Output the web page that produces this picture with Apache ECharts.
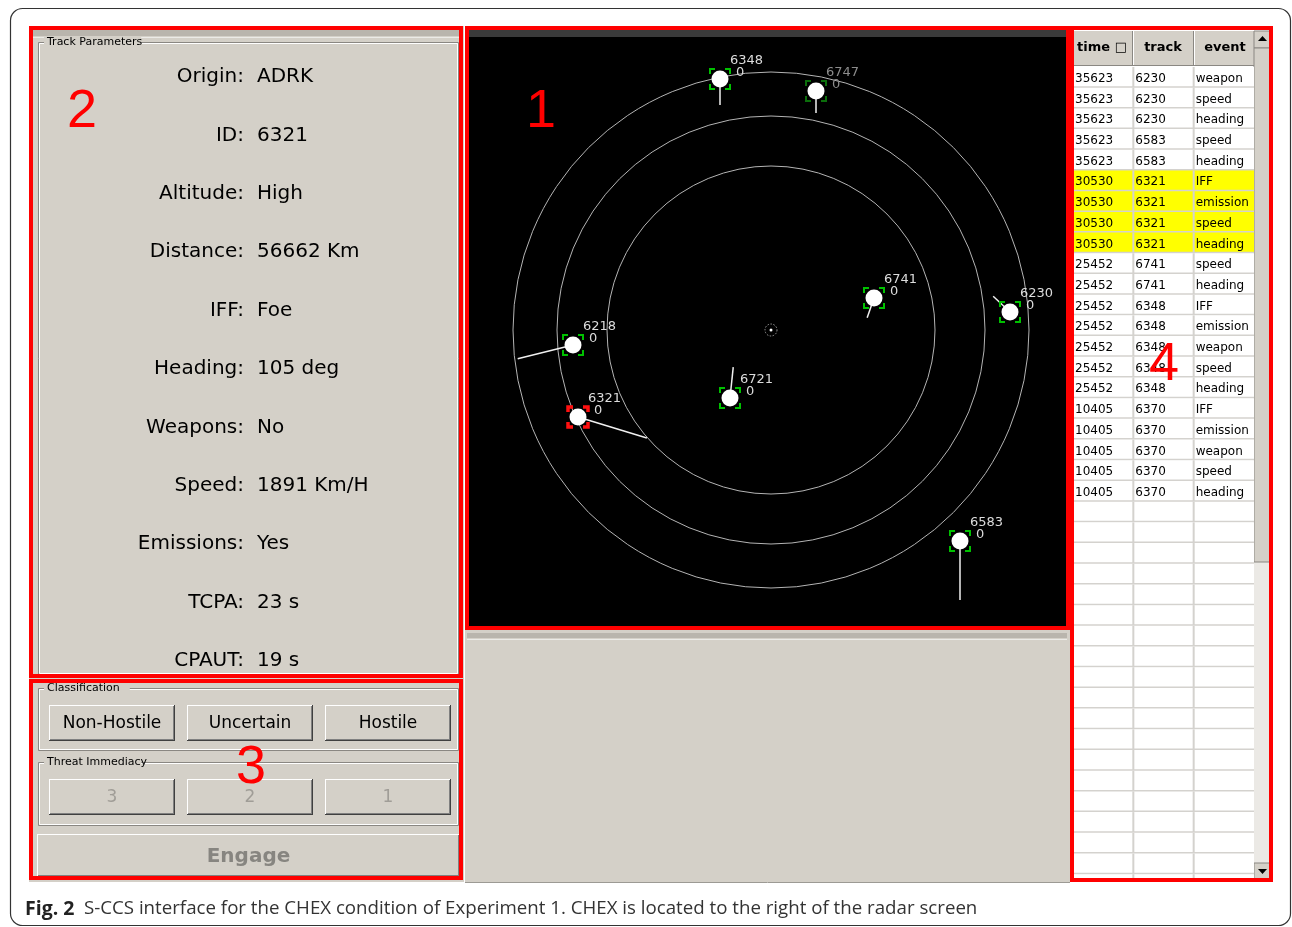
<!DOCTYPE html>
<html><head><meta charset="utf-8">
<script src="https://cdn.jsdelivr.net/npm/echarts@6/dist/echarts.min.js"></script>
<style>html,body{margin:0;padding:0;background:#fff}#c{width:1292px;height:927px}</style>
</head><body><div id="c"></div>
<script>
// ---------------- DATA ----------------
const paramLabels = ['Origin:','ID:','Altitude:','Distance:','IFF:','Heading:','Weapons:','Speed:','Emissions:','TCPA:','CPAUT:'];
const paramValues = ['ADRK','6321','High','56662 Km','Foe','105 deg','No','1891 Km/H','Yes','23 s','19 s'];
const classButtons = ['Non-Hostile','Uncertain','Hostile'];
const threatButtons = ['3','2','1'];
const ringRadii = [164, 214, 258];
const trackIds      = ['6348','6747','6741','6230','6218','6721','6321','6583'];
const trackX        = [ -51,   45,   103,   239,  -198,   -41,  -193,   189];
const trackY        = [ 251,  239,    32,    18,   -15,   -68,   -87,  -211];
const trackHeading  = [ 180,  180,   199,   313,   256,     6,   107,   180];
const trackVector   = [  26,   22,    21,    23,    57,    31,    72,    59];
const trackAlt      = [   0,    0,     0,     0,     0,     0,     0,     0];
const selectedTrack = '6321';
const dimTracks = ['6747'];
const tableHeaders = ['time \u25A1','track','event'];
const eventTime  = ['35623','35623','35623','35623','35623','30530','30530','30530','30530','25452','25452','25452','25452','25452','25452','25452','10405','10405','10405','10405','10405'];
const eventTrack = ['6230','6230','6230','6583','6583','6321','6321','6321','6321','6741','6741','6348','6348','6348','6348','6348','6370','6370','6370','6370','6370'];
const eventType  = ['weapon','speed','heading','speed','heading','IFF','emission','speed','heading','speed','heading','IFF','emission','weapon','speed','heading','IFF','emission','weapon','speed','heading'];
const tableRowCount = 40;
const regionNumbers = ['1','2','3','4'];
const captionBold = 'Fig. 2';
const captionText = 'S-CCS interface for the CHEX condition of Experiment 1. CHEX is located to the right of the radar screen';

// ---------------- LAYOUT / STYLE ----------------
const FACE = '#d4d0c8';
const UI = "'DejaVu Sans'";
const g = [];
function rect(x,y,w,h,fill,z,extra){ g.push(Object.assign({type:'rect',z:z||1,shape:{x:x,y:y,width:w,height:h},style:{fill:fill}},extra||{})); }
function line(x1,y1,x2,y2,stroke,lw,z){ g.push({type:'line',z:z||2,shape:{x1:x1,y1:y1,x2:x2,y2:y2},style:{stroke:stroke,lineWidth:lw||1}}); }
function text(t,x,y,font,fill,align,z){ g.push({type:'text',z:z||5,style:{text:t,x:x,y:y,font:font,fill:fill,align:align||'left',verticalAlign:'middle',textAlign:align||'left',textVerticalAlign:'middle'}}); }
function groupBox(x,y,w,h,title){
  g.push({type:'rect',z:2,shape:{x:x+0.5,y:y+0.5,width:w,height:h},style:{fill:null,stroke:'#8a8782',lineWidth:1}});
  g.push({type:'rect',z:2,shape:{x:x+1.5,y:y+1.5,width:w-2,height:h-2},style:{fill:null,stroke:'#ffffff',lineWidth:1}});
  rect(x+6,y-6,title.length*5.7+6,12,FACE,3);
  text(title,x+9,y,"11px "+UI,'#000','left',4);
}
function button(x,y,w,h,label,disabled,font,dimColor){
  rect(x,y,w,h,'#404040',2);
  rect(x,y,w-1,h-1,'#ffffff',2);
  rect(x+1,y+1,w-2,h-2,'#808080',2);
  rect(x+1,y+1,w-3,h-3,FACE,2);
  if(disabled){
    text(label,x+w/2,y+h/2+1,font,dimColor||'#a4a19b','center',5);
  } else text(label,x+w/2,y+h/2+1,font,'#000','center',5);
}

// outer rounded frame
g.push({type:'rect',z:0,shape:{x:10.5,y:8.5,width:1280,height:917,r:12},style:{fill:null,stroke:'#333',lineWidth:1.2}});
// panels
rect(29,26,435,856,FACE,1);
rect(465,628,606,254,FACE,1);
rect(467,633,600,5,'#b9b5ad',2);
rect(467,639,600,1,'#ecebe7',2);
line(465,882.5,1070,882.5,'#9c9a94',1,2);
rect(33,30,427,6,'#b9b5ad',2);
line(33,37.5,460,37.5,'#ecebe7',1,2);
// radar screen background and dark strip
rect(467,28,601,600,'#000000',1);
rect(469,30,598,7,'#3a3a3a',2);

// Track Parameters
groupBox(38,42,420,632,'Track Parameters');
const rowY0 = 77, rowDy = 58.4;
paramLabels.forEach(function(l,i){
  text(l,244,rowY0+i*rowDy,"20px "+UI,'#000','right',5);
  text(paramValues[i],257,rowY0+i*rowDy,"20px "+UI,'#000','left',5);
});
// Classification
groupBox(38,688,420,62,'Classification');
classButtons.forEach(function(b,i){ button(49+i*138,705,126,36,b,false,"17px "+UI); });
groupBox(38,762,420,63,'Threat Immediacy');
threatButtons.forEach(function(b,i){ button(49+i*138,779,126,36,b,true,"17px "+UI,'#a09d97'); });
button(37,834,423,43,'Engage',true,"bold 20px "+UI,'#878580');

// table header
rect(1073,31,181,35,FACE,3);
[1073,1133,1194].forEach(function(x,i){
  line(x+0.5,31,x+0.5,65,'#ffffff',1,4);
  if(i>0) line(x-0.5,31,x-0.5,65,'#8a8782',1,4);
});
line(1073,65.5,1254,65.5,'#8a8782',1,4);
const headerCenters = [1102,1163,1225];
tableHeaders.forEach(function(h,i){ text(h,headerCenters[i],48,"bold 13px "+UI,'#000','center',6); });
// scrollbar
rect(1254,31,17,849,'#ebe9e5',3);
rect(1254,31,17,17,FACE,4,{style:{fill:FACE,stroke:'#8a8782',lineWidth:1}});
g.push({type:'polygon',z:6,shape:{points:[[1258,41],[1267,41],[1262.5,36]]},style:{fill:'#000'}});
rect(1254,48,17,514,FACE,4,{style:{fill:FACE,stroke:'#8a8782',lineWidth:1}});
rect(1254,863,17,17,FACE,4,{style:{fill:FACE,stroke:'#8a8782',lineWidth:1}});
g.push({type:'polygon',z:6,shape:{points:[[1258,869],[1267,869],[1262.5,874]]},style:{fill:'#000'}});

// red region boxes
function redBox(x,y,w,h){ g.push({type:'rect',z:50,shape:{x:x,y:y,width:w,height:h},style:{fill:null,stroke:'#ff0000',lineWidth:4}}); }
redBox(31,28,430,648);
redBox(31,681,430,197);
redBox(467,28,601,600);
redBox(1072,28,199,852);
const numPos = [[541,112],[82,112],[251,768],[1164,365]];
regionNumbers.forEach(function(n,i){ text(n,numPos[i][0],numPos[i][1],"54px 'Liberation Sans'",'#ff0000','center',51); });

// caption
text(captionBold,25,909,"bold 19.5px 'Open Sans'",'#222','left',5);
text(captionText,84,909,"18.7px 'Open Sans'",'#333','left',5);

// ---------------- RENDERERS ----------------
function renderRing(params, api){
  const c = api.coord([0,0]);
  const r = api.size([api.value(2),0])[0];
  return {type:'circle',shape:{cx:c[0],cy:c[1],r:r},style:{fill:null,stroke:'#b4b4b4',lineWidth:1}};
}
function renderOrigin(params, api){
  const c = api.coord([api.value(0),api.value(1)]);
  return {type:'group',children:[
    {type:'circle',shape:{cx:c[0],cy:c[1],r:6},style:{fill:null,stroke:'#9a9a9a',lineWidth:1,lineDash:[1.5,1.5]}},
    {type:'circle',shape:{cx:c[0],cy:c[1],r:1.5},style:{fill:'#ffffff'}}
  ]};
}
function renderTrack(params, api){
  const i = api.value(2);
  const id = trackIds[i];
  const x = trackX[i], y = trackY[i];
  const p = api.coord([x,y]);
  const h = trackHeading[i]*Math.PI/180;
  const e = api.coord([x+trackVector[i]*Math.sin(h), y+trackVector[i]*Math.cos(h)]);
  const sel = id===selectedTrack, dim = dimTracks.indexOf(id)>=0;
  const bc = sel ? '#ff1010' : (dim ? '#0b6e0b' : '#00c000');
  const s = 10, a = 5, lw = sel ? 3.5 : 2;
  const ch = [{type:'line',shape:{x1:p[0],y1:p[1],x2:e[0],y2:e[1]},style:{stroke:'#f0f0f0',lineWidth:1.5}}];
  [[-1,-1],[1,-1],[1,1],[-1,1]].forEach(function(d){
    ch.push({type:'polyline',shape:{points:[[p[0]+d[0]*s,p[1]+d[1]*(s-a)],[p[0]+d[0]*s,p[1]+d[1]*s],[p[0]+d[0]*(s-a),p[1]+d[1]*s]]},style:{stroke:bc,fill:null,lineWidth:lw}});
  });
  ch.push({type:'circle',shape:{cx:p[0],cy:p[1],r:8.5},style:{fill:'#ffffff'}});
  const lc = dim ? '#8c8c8c' : '#dcdcdc';
  ch.push({type:'text',style:{text:id,x:p[0]+10,y:p[1]-18,font:"13px "+UI,fill:lc,align:'left',verticalAlign:'middle'}});
  ch.push({type:'text',style:{text:String(trackAlt[i]),x:p[0]+16,y:p[1]-6,font:"13px "+UI,fill:lc,align:'left',verticalAlign:'middle'}});
  return {type:'group',children:ch};
}
function renderRow(params, api){
  const r = api.value(1);
  const tl = api.coord([0,r]), br = api.coord([3,r+1]);
  const hl = r < eventTrack.length && eventTrack[r]===selectedTrack;
  const ch = [{type:'rect',shape:{x:tl[0],y:tl[1],width:br[0]-tl[0],height:br[1]-tl[1]},style:{fill:hl?'#ffff00':'#ffffff'}}];
  ch.push({type:'line',shape:{x1:tl[0],y1:br[1]-0.5,x2:br[0],y2:br[1]-0.5},style:{stroke:'#d4d2ce',lineWidth:2}});
  const cols = r < eventTime.length ? [eventTime[r],eventTrack[r],eventType[r]] : ['','',''];
  for(let c=0;c<3;c++){
    const x0 = api.coord([c,r])[0];
    if(c>0) ch.push({type:'line',shape:{x1:x0,y1:tl[1],x2:x0,y2:br[1]},style:{stroke:'#d4d2ce',lineWidth:2}});
    if(cols[c]) ch.push({type:'text',style:{text:cols[c],x:x0+2,y:(tl[1]+br[1])/2+1.5,font:"12px "+UI,fill:'#000',align:'left',verticalAlign:'middle'}});
  }
  return {type:'group',children:ch};
}

const rowData = [];
for(let r=0;r<tableRowCount;r++) rowData.push([0,r]);

const chart = echarts.init(document.getElementById('c'),null,{renderer:'canvas'});
chart.setOption({
  animation:false,
  backgroundColor:'#ffffff',
  grid:[
    {left:470,top:37,width:597,height:589,show:false},
    {left:1073,top:67,width:181,height:813,show:false}
  ],
  xAxis:[
    {gridIndex:0,type:'value',min:-301,max:296,show:false},
    {gridIndex:1,type:'value',min:0,max:3,show:false}
  ],
  yAxis:[
    {gridIndex:0,type:'value',min:-296,max:293,show:false},
    {gridIndex:1,type:'value',min:0,max:39.28,inverse:true,show:false}
  ],
  series:[
    {type:'custom',z:10,xAxisIndex:0,yAxisIndex:0,renderItem:renderRing,data:ringRadii.map(function(r){return [0,0,r];}),encode:{x:0,y:1},silent:true},
    {type:'custom',z:10,xAxisIndex:0,yAxisIndex:0,renderItem:renderOrigin,data:[[0,0]],encode:{x:0,y:1},silent:true},
    {type:'custom',z:11,xAxisIndex:0,yAxisIndex:0,renderItem:renderTrack,data:trackIds.map(function(id,i){return [trackX[i],trackY[i],i];}),encode:{x:0,y:1},silent:true},
    {type:'custom',z:10,xAxisIndex:1,yAxisIndex:1,renderItem:renderRow,data:rowData,encode:{x:0,y:1},clip:true,silent:true}
  ],
  graphic:{elements:g}
});
</script></body></html>
